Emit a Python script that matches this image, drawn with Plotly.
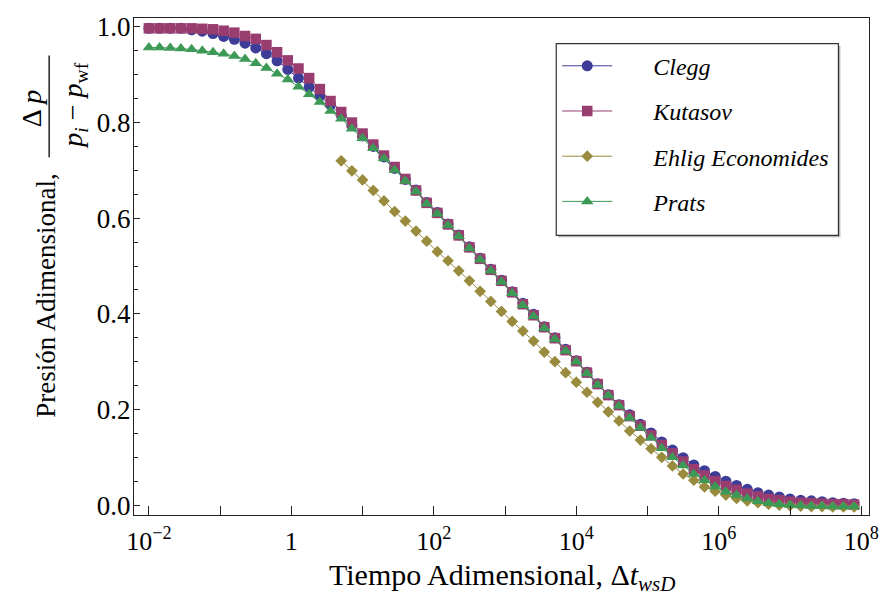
import numpy as np
import plotly.graph_objects as go

# log10 of dimensionless time (x positions of the markers)
log10_t = [-2.00, -1.85, -1.70, -1.55, -1.40, -1.25, -1.10, -0.95, -0.80, -0.65,
           -0.50, -0.35, -0.20, -0.05, 0.10, 0.25, 0.40, 0.55, 0.70, 0.85,
           1.00, 1.15, 1.30, 1.45, 1.60, 1.75, 1.90, 2.05, 2.20, 2.35,
           2.50, 2.65, 2.80, 2.95, 3.10, 3.25, 3.40, 3.55, 3.70, 3.85,
           4.00, 4.15, 4.30, 4.45, 4.60, 4.75, 4.90, 5.05, 5.20, 5.35,
           5.50, 5.65, 5.80, 5.95, 6.10, 6.25, 6.40, 6.55, 6.70, 6.85,
           7.00, 7.15, 7.30, 7.45, 7.60, 7.75, 7.90]

clegg = [0.997, 0.997, 0.997, 0.997, 0.994, 0.991, 0.986, 0.980, 0.974, 0.966,
         0.956, 0.944, 0.929, 0.911, 0.893, 0.874, 0.855, 0.837, 0.815, 0.794,
         0.772, 0.750, 0.728, 0.704, 0.681, 0.659, 0.633, 0.612, 0.588, 0.565,
         0.540, 0.516, 0.493, 0.470, 0.446, 0.422, 0.399, 0.373, 0.350, 0.326,
         0.302, 0.278, 0.254, 0.231, 0.210, 0.189, 0.169, 0.151, 0.132, 0.115,
         0.099, 0.084, 0.072, 0.060, 0.050, 0.041, 0.033, 0.026, 0.021, 0.017,
         0.013, 0.010, 0.009, 0.007, 0.005, 0.004, 0.003]

kutasov = [0.997, 0.997, 0.997, 0.997, 0.997, 0.996, 0.995, 0.992, 0.988, 0.981,
           0.975, 0.962, 0.947, 0.930, 0.913, 0.893, 0.870, 0.845, 0.822, 0.800,
           0.777, 0.754, 0.731, 0.707, 0.682, 0.658, 0.632, 0.611, 0.587, 0.564,
           0.539, 0.515, 0.492, 0.469, 0.445, 0.420, 0.397, 0.372, 0.349, 0.324,
           0.301, 0.277, 0.253, 0.230, 0.209, 0.186, 0.166, 0.146, 0.126, 0.108,
           0.091, 0.075, 0.062, 0.050, 0.040, 0.032, 0.024, 0.018, 0.013, 0.010,
           0.007, 0.005, 0.004, 0.003, 0.002, 0.002, 0.001]

# Ehlig-Economides starts at the 19th time value (log10 t = 0.70)
ehlig_start = 18
ehlig = [0.720, 0.699, 0.680, 0.658, 0.636, 0.614, 0.594, 0.573, 0.552, 0.530,
         0.511, 0.490, 0.469, 0.447, 0.426, 0.405, 0.384, 0.364, 0.343, 0.320,
         0.300, 0.277, 0.257, 0.236, 0.215, 0.195, 0.176, 0.155, 0.136, 0.118,
         0.100, 0.082, 0.065, 0.052, 0.038, 0.029, 0.021, 0.014, 0.009, 0.005,
         0.002, 0.000, -0.001, -0.002, -0.003, -0.003, -0.004, -0.004, -0.004]

prats = [0.957, 0.957, 0.956, 0.955, 0.953, 0.950, 0.947, 0.944, 0.939, 0.933,
         0.924, 0.914, 0.902, 0.890, 0.875, 0.859, 0.843, 0.824, 0.808, 0.787,
         0.767, 0.746, 0.725, 0.701, 0.678, 0.656, 0.630, 0.609, 0.585, 0.562,
         0.537, 0.513, 0.490, 0.467, 0.443, 0.418, 0.395, 0.370, 0.347, 0.322,
         0.300, 0.275, 0.251, 0.229, 0.207, 0.182, 0.162, 0.141, 0.119, 0.100,
         0.083, 0.065, 0.052, 0.039, 0.028, 0.021, 0.014, 0.008, 0.004, 0.002,
         0.000, -0.001, -0.002, -0.002, -0.003, -0.003, -0.003]

series_names = ["Clegg", "Kutasov", "Ehlig Economides", "Prats"]
colors = ["#3D3D99", "#993D71", "#998B3D", "#3D9956"]
symbols = ["circle", "square", "diamond", "triangle-up"]
sizes = [11, 10.5, 9, 11]

x_decades = [-2, -1, 0, 1, 2, 3, 4, 5, 6, 7, 8]
x_ticktext = ["10<sup>\u22122</sup>", "", "1", "", "10<sup>2</sup>", "",
              "10<sup>4</sup>", "", "10<sup>6</sup>", "", "10<sup>8</sup>"]
y_ticks = [0.0, 0.2, 0.4, 0.6, 0.8, 1.0]

t = 10 ** np.array(log10_t)
xs = [t, t, t[ehlig_start:], t]
ys = [clegg, kutasov, ehlig, prats]

FONT = "Liberation Serif, Times New Roman, serif"
NB = "\u00a0"

fig = go.Figure()
for i in range(4):
    fig.add_trace(go.Scatter(
        x=xs[i], y=ys[i], mode="lines+markers",
        name=NB * 6 + "<i>" + series_names[i] + "</i>",
        legendgroup=str(i),
        line=dict(color=colors[i], width=1),
        marker=dict(symbol=symbols[i], size=sizes[i], color=colors[i],
                    line=dict(width=0)),
    ))

L, R, T, B = 134, 12, 12, 91
W, H = 891, 606
pw, ph = W - L - R, H - T - B


def px2paper(px, py):
    return (px - L) / pw, (H - B - py) / ph


fig.update_layout(
    width=W, height=H,
    margin=dict(l=L, r=R, t=T, b=B, pad=0),
    paper_bgcolor="white", plot_bgcolor="white",
    font=dict(family=FONT, size=24, color="black"),
    showlegend=True,
    legend=dict(
        x=px2paper(563, 0)[0], y=px2paper(0, 38)[1],
        xanchor="left", yanchor="top",
        bgcolor="rgba(0,0,0,0)", borderwidth=0,
        font=dict(family=FONT, size=24, color="black"),
        tracegroupgap=11,
        itemwidth=50,
    ),
    xaxis=dict(
        type="log", range=[-2.209, 8.109],
        tickvals=[10.0 ** d for d in x_decades], ticktext=x_ticktext,
        ticks="inside", ticklen=9, tickwidth=1, tickcolor="#222222",
        showline=True, linecolor="#222222", linewidth=1.3, mirror=True,
        showgrid=False, zeroline=False,
        tickfont=dict(family=FONT, size=26, color="black"),
        ticklabelstandoff=3,
    ),
    yaxis=dict(
        range=[-0.0207, 1.0186],
        tickvals=y_ticks, ticktext=[f"{v:.1f}" for v in y_ticks],
        ticks="inside", ticklen=6, tickwidth=1, tickcolor="#222222",
        minor=dict(dtick=0.05, ticks="inside", ticklen=4, tickcolor="#222222"),
        showline=True, linecolor="#222222", linewidth=1.3, mirror=True,
        showgrid=False, zeroline=False,
        tickfont=dict(family=FONT, size=27, color="black"),
        ticklabelstandoff=-3,
    ),
)

ann = []
xt = px2paper(507, 578)
ann.append(dict(x=xt[0], y=xt[1], xref="paper", yref="paper", showarrow=False,
                xanchor="center", yanchor="middle",
                text="Tiempo Adimensional, \u0394<i>t</i><sub><i>wsD</i></sub>",
                font=dict(family=FONT, size=30)))
yt = px2paper(44, 293)
ann.append(dict(x=yt[0], y=yt[1], xref="paper", yref="paper", showarrow=False,
                xanchor="center", yanchor="middle", textangle=-90,
                text="Presi\u00f3n Adimensional,",
                font=dict(family=FONT, size=27)))
num = px2paper(31, 104)
ann.append(dict(x=num[0], y=num[1], xref="paper", yref="paper", showarrow=False,
                xanchor="center", yanchor="middle", textangle=-90,
                text="\u0394 <i>p</i>", font=dict(family=FONT, size=28)))
den = px2paper(74, 101)
ann.append(dict(x=den[0], y=den[1], xref="paper", yref="paper", showarrow=False,
                xanchor="center", yanchor="middle", textangle=-90,
                text="<i>p<sub>i</sub></i>" + NB + "\u2212" + NB + "<i>p</i><sub>wf</sub>",
                font=dict(family=FONT, size=28)))
fig.update_layout(annotations=ann)

# fraction bar of the y-axis title
l0 = px2paper(48, 50)
l1 = px2paper(48, 153)
fig.add_shape(type="line", xref="paper", yref="paper",
              x0=l0[0], x1=l1[0], y0=l0[1], y1=l1[1],
              line=dict(color="black", width=1.3))

# legend frame (with a faint drop shadow)
s0 = px2paper(564, 40)
s1 = px2paper(850, 234)
fig.add_shape(type="rect", xref="paper", yref="paper", layer="above",
              x0=s0[0], x1=s1[0], y0=s0[1], y1=s1[1],
              fillcolor="#b5b5b5", line=dict(width=0))
b0 = px2paper(562, 38)
b1 = px2paper(848, 232)
fig.add_shape(type="rect", xref="paper", yref="paper", layer="above",
              x0=b0[0], x1=b1[0], y0=b0[1], y1=b1[1],
              fillcolor="white", line=dict(color="#333333", width=1.2))

fig.write_html("out.html")
